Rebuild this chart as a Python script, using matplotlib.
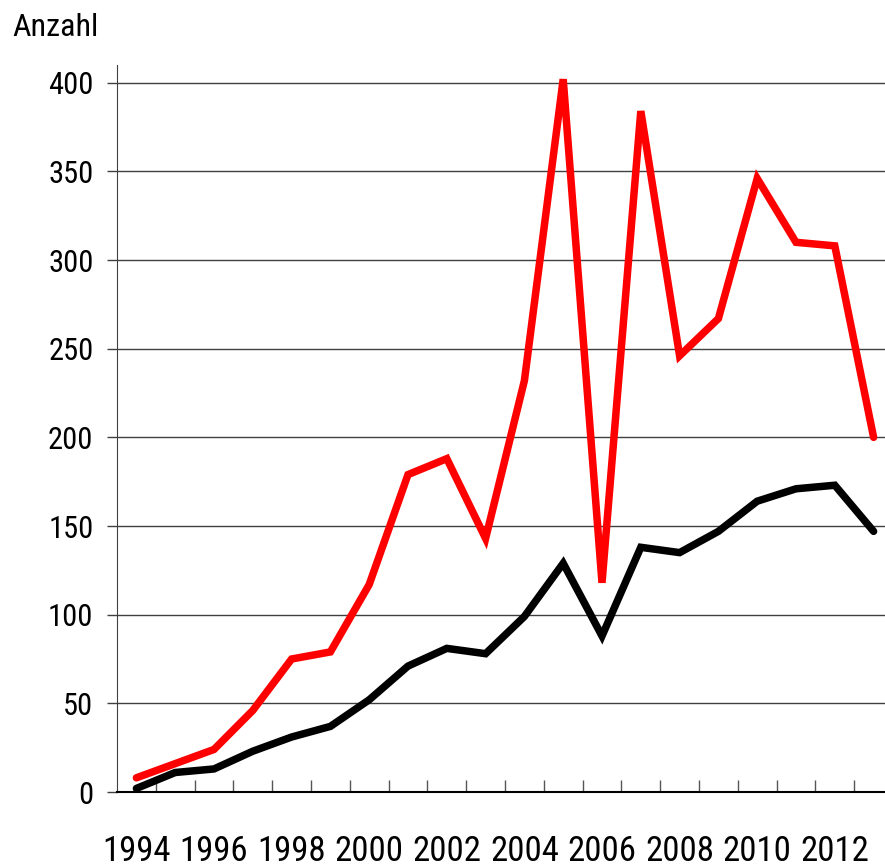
import numpy as np
from matplotlib import pyplot as plt
from matplotlib.ticker import FixedLocator

plt.rcParams['font.family'] = ['Roboto Condensed', 'DejaVu Sans']

jahre = np.arange(1994, 2014)
rot = [8, 16, 24, 46, 75, 79, 117, 179, 188, 143, 232, 402, 118, 384, 246, 267, 346, 310, 308, 200]
schwarz = [2, 11, 13, 23, 31, 37, 52, 71, 81, 78, 99, 129, 88, 138, 135, 147, 164, 171, 173, 147]
jahr_labels = list(range(1994, 2013, 2))

fig = plt.figure(figsize=(8.85, 8.67), dpi=100)
ax = fig.add_axes([117 / 885, 75 / 867, 1 - 117 / 885, (792 - 65) / 867])

ax.plot(jahre, rot, color='#ff0000', lw=5.4, solid_capstyle='round', solid_joinstyle='miter', zorder=3)
ax.plot(jahre, schwarz, color='black', lw=5.4, solid_capstyle='round', solid_joinstyle='miter', zorder=3)

ax.set_ylim(0, 410)
ax.set_xlim(1993.5, 1993.5 + (885 - 117) / 38.8)

ax.set_yticks(range(0, 401, 50))
ax.yaxis.grid(True, color='#404040', lw=1)
ax.set_axisbelow(True)
ax.tick_params(axis='y', direction='out', length=7, width=1, labelsize=22, pad=10, color='#404040')

ax.set_xticks(jahr_labels)
ax.set_xticklabels([str(j) for j in jahr_labels])
ax.xaxis.set_minor_locator(FixedLocator(np.arange(1994.5, 2013.5, 1)))
ax.tick_params(axis='x', which='major', length=0, labelsize=25, pad=31)
ax.tick_params(axis='x', which='minor', direction='in', length=8.5, width=1, color='#555555')

for s in ['top', 'right']:
    ax.spines[s].set_visible(False)
ax.spines['left'].set_color('#404040')
ax.spines['bottom'].set_color('black')
ax.spines['bottom'].set_linewidth(1.5)

fig.text(12 / 885, (867 - 27) / 867, 'Anzahl', fontsize=23, va='center', ha='left')

plt.savefig('out.png', dpi=100)
